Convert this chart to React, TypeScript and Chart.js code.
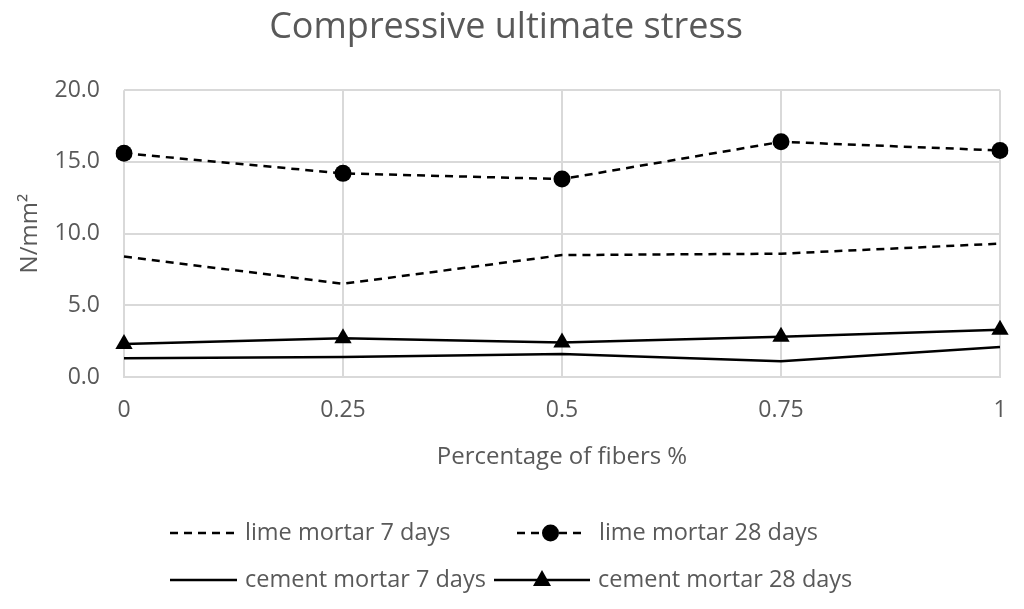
import React, { useEffect, useRef } from "react";
import { Chart, registerables } from "chart.js";

Chart.register(...registerables);

const categories = ["0", "0.25", "0.5", "0.75", "1"];
const seriesNames = [
  "lime mortar 7 days",
  "lime mortar 28 days",
  "cement mortar 7 days",
  "cement mortar 28 days",
];
const limeMortar7 = [8.4, 6.5, 8.5, 8.6, 9.3];
const limeMortar28 = [15.6, 14.2, 13.8, 16.4, 15.8];
const cementMortar7 = [1.3, 1.4, 1.6, 1.1, 2.1];
const cementMortar28 = [2.3, 2.7, 2.4, 2.8, 3.3];
const yMin = 0;
const yMax = 20;
const yStep = 5;

const FONT = "'Open Sans'";
const TEXT = "#595959";
const GRID = "#d9d9d9";

// legend layout (line start, line end, text x, y)
const legendSlots = [
  { x0: 170, x1: 237, tx: 245, y: 533 },
  { x0: 517, x1: 584, tx: 599, y: 533 },
  { x0: 170, x1: 237, tx: 245, y: 580 },
  { x0: 494, x1: 590, tx: 598, y: 580 },
];

const legendPlugin = {
  id: "customLegend",
  afterDraw(chart: any) {
    const ctx = chart.ctx;
    ctx.save();
    chart.data.datasets.forEach((ds: any, i: number) => {
      const s = legendSlots[i];
      if (!s) return;
      ctx.strokeStyle = ds.borderColor;
      ctx.lineWidth = ds.borderWidth;
      ctx.setLineDash(ds.borderDash || []);
      ctx.beginPath();
      ctx.moveTo(s.x0, s.y);
      ctx.lineTo(s.x1, s.y);
      ctx.stroke();
      ctx.setLineDash([]);
      const mx = (s.x0 + s.x1) / 2;
      if (ds.pointRadius > 0) {
        ctx.fillStyle = ds.pointBackgroundColor;
        const r = ds.pointRadius;
        ctx.beginPath();
        if (ds.pointStyle === "triangle") {
          ctx.moveTo(mx, s.y - r);
          ctx.lineTo(mx + r * 0.9, s.y + r * 0.6);
          ctx.lineTo(mx - r * 0.9, s.y + r * 0.6);
          ctx.closePath();
        } else {
          ctx.arc(mx, s.y, r, 0, Math.PI * 2);
        }
        ctx.fill();
      }
      ctx.fillStyle = TEXT;
      ctx.font = `23.5px ${FONT}`;
      ctx.textAlign = "left";
      ctx.textBaseline = "middle";
      ctx.fillText(ds.label, s.tx, s.y);
    });
    ctx.restore();
  },
};

export default function App() {
  const ref = useRef<HTMLCanvasElement>(null);
  useEffect(() => {
    if (!ref.current) return;
    const chart = new Chart(ref.current, {
      type: "line",
      data: {
        labels: categories,
        datasets: [
          {
            label: seriesNames[0],
            data: limeMortar7,
            borderColor: "#000",
            borderWidth: 2.5,
            borderDash: [8, 6],
            pointRadius: 0,
            pointBackgroundColor: "#000",
            tension: 0,
          },
          {
            label: seriesNames[1],
            data: limeMortar28,
            borderColor: "#000",
            borderWidth: 2.5,
            borderDash: [8, 6],
            pointRadius: 8.5,
            pointStyle: "circle",
            pointBackgroundColor: "#000",
            pointBorderColor: "#000",
            pointBorderWidth: 0,
            tension: 0,
          },
          {
            label: seriesNames[2],
            data: cementMortar7,
            borderColor: "#000",
            borderWidth: 2.5,
            pointRadius: 0,
            pointBackgroundColor: "#000",
            tension: 0,
          },
          {
            label: seriesNames[3],
            data: cementMortar28,
            borderColor: "#000",
            borderWidth: 2.5,
            pointRadius: 10,
            pointStyle: "triangle",
            pointBackgroundColor: "#000",
            pointBorderColor: "#000",
            pointBorderWidth: 0,
            tension: 0,
          },
        ] as any,
      },
      options: {
        animation: false,
        responsive: false,
        devicePixelRatio: 1,
        layout: { padding: { left: 12, right: 24, top: 0, bottom: 137 } },
        plugins: {
          legend: { display: false },
          tooltip: { enabled: false },
          title: {
            display: true,
            text: "Compressive ultimate stress",
            color: TEXT,
            font: { family: FONT, size: 36, weight: "normal" },
            padding: { top: 6, bottom: 41 },
          },
        },
        scales: {
          x: {
            type: "category",
            offset: false,
            afterFit: (scale: any) => {
              scale.height = 95;
            },
            grid: {
              color: GRID,
              lineWidth: 2,
              drawTicks: true,
              tickLength: 20,
              tickColor: "rgba(0,0,0,0)",
            },
            border: { color: GRID, width: 2 },
            ticks: {
              color: TEXT,
              font: { family: FONT, size: 23 },
              padding: 0,
              maxRotation: 0,
            },
            title: {
              display: true,
              text: "Percentage of fibers %",
              color: TEXT,
              font: { family: FONT, size: 24 },
              padding: { top: 0, bottom: 0 },
            },
          },
          y: {
            min: yMin,
            max: yMax,
            grid: { color: GRID, lineWidth: 2, drawTicks: false },
            border: { display: false },
            afterFit: (scale: any) => {
              scale.width = 112;
            },
            ticks: {
              stepSize: yStep,
              color: TEXT,
              font: { family: FONT, size: 23 },
              padding: 24,
              callback: (v: any) => Number(v).toFixed(1),
            },
            title: {
              display: true,
              text: "N/mm²",
              color: TEXT,
              font: { family: FONT, size: 24 },
              padding: { top: 4, bottom: 0 },
            },
          },
        },
      },
      plugins: [legendPlugin],
    });
    return () => chart.destroy();
  }, []);
  return (
    <div style={{ position: "fixed", left: 0, top: 0, width: 1024, height: 609, background: "#fff" }}>
      <canvas ref={ref} width={1024} height={609} style={{ width: 1024, height: 609 }} />
    </div>
  );
}
